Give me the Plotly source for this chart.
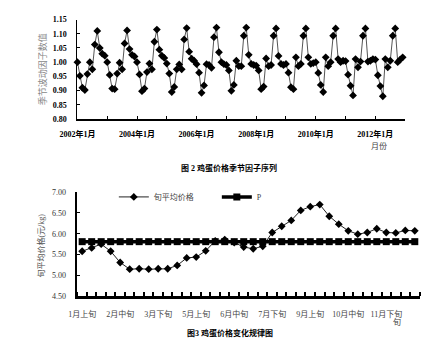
import plotly.graph_objects as go

W, H = 432, 350

# ---- Monthly seasonal factors of egg prices, 2002-2012 ----
years = list(range(2002, 2013))
sf_2002 = [1.000, 0.952, 0.910, 0.902, 0.958, 1.000, 0.975, 1.062, 1.110, 1.050, 1.030, 1.023]
sf_2003 = [1.000, 0.955, 0.907, 0.905, 0.960, 0.998, 0.975, 1.066, 1.112, 1.046, 1.026, 1.020]
sf_2004 = [1.000, 0.957, 0.898, 0.907, 0.965, 0.995, 0.975, 1.072, 1.115, 1.044, 1.023, 1.015]
sf_2005 = [0.995, 0.960, 0.895, 0.913, 0.975, 0.992, 0.975, 1.080, 1.120, 1.037, 1.012, 1.005]
sf_2006 = [0.993, 0.963, 0.892, 0.918, 0.993, 0.990, 0.980, 1.088, 1.122, 1.035, 1.000, 0.993]
sf_2007 = [0.990, 0.971, 0.899, 0.920, 1.005, 0.986, 0.986, 1.093, 1.122, 1.026, 0.994, 0.990]
sf_2008 = [0.988, 0.971, 0.905, 0.914, 1.013, 0.986, 0.990, 1.093, 1.119, 1.022, 0.994, 0.990]
sf_2009 = [0.994, 0.963, 0.912, 0.905, 1.017, 0.986, 0.994, 1.093, 1.119, 1.017, 0.994, 0.997]
sf_2010 = [1.000, 0.962, 0.920, 0.895, 1.017, 0.986, 1.000, 1.093, 1.119, 1.011, 1.000, 1.005]
sf_2011 = [1.004, 0.956, 0.917, 0.883, 1.011, 0.982, 1.002, 1.093, 1.119, 1.002, 1.005, 1.011]
sf_2012 = [1.009, 0.954, 0.916, 0.880, 1.011, 0.982, 1.005, 1.093, 1.119, 1.000, 1.009, 1.017]

seasonal = (sf_2002 + sf_2003 + sf_2004 + sf_2005 + sf_2006 + sf_2007 +
            sf_2008 + sf_2009 + sf_2010 + sf_2011 + sf_2012)
month_labels = [f"{y}年{m}月" for y in years for m in range(1, 13)]
sf_ticks = [0.80, 0.85, 0.90, 0.95, 1.00, 1.05, 1.10, 1.15]

# ---- Ten-day (旬) average egg prices over a year ----
dekads = [f"{m}月{p}旬" for m in range(1, 13) for p in ("上", "中", "下")]
dekad_price = [5.58, 5.66, 5.75, 5.58, 5.31, 5.15, 5.16, 5.15, 5.16, 5.16,
               5.24, 5.42, 5.44, 5.59, 5.83, 5.86, 5.79, 5.68, 5.64, 5.70,
               6.03, 6.18, 6.32, 6.56, 6.65, 6.70, 6.42, 6.23, 6.07, 5.99,
               6.03, 6.12, 6.03, 6.02, 6.08, 6.07]
p_level = [5.81] * len(dekads)
price_ticks = [4.50, 5.00, 5.50, 6.00, 6.50, 7.00]

SERIF = "Liberation Serif, Noto Sans CJK SC, serif"


def px_x(x):
    return x / W


def px_y(y):
    return 1 - y / H


fig = go.Figure()

fig.add_trace(go.Scatter(
    x=list(range(len(seasonal))), y=seasonal, mode="lines+markers",
    line=dict(color="#555555", width=1),
    marker=dict(symbol="diamond", size=6, color="black"),
    showlegend=False, cliponaxis=False, xaxis="x", yaxis="y",
))

fig.add_trace(go.Scatter(
    x=list(range(len(dekads))), y=dekad_price, mode="lines+markers",
    name="旬平均价格",
    line=dict(color="#222222", width=1),
    marker=dict(symbol="diamond", size=6, color="black"),
    cliponaxis=False, xaxis="x2", yaxis="y2",
))
fig.add_trace(go.Scatter(
    x=list(range(len(dekads))), y=p_level, mode="lines+markers",
    name="P",
    line=dict(color="black", width=3.5),
    marker=dict(symbol="square", size=7, color="black"),
    cliponaxis=False, xaxis="x2", yaxis="y2",
))

n = len(seasonal)
top_tickvals = list(range(0, n + 1, 12))
top_ticktext = [month_labels[i] if (i < n and i % 24 == 0) else "" for i in top_tickvals]

axis_common = dict(showgrid=False, zeroline=False, showline=True, linecolor="black",
                   tickcolor="black")

fig.update_layout(
    width=W, height=H, margin=dict(l=0, r=0, t=0, b=0),
    paper_bgcolor="white", plot_bgcolor="white",
    font=dict(family=SERIF, size=8, color="black"),
    xaxis=dict(**axis_common, domain=[px_x(62), px_x(404)], range=[0, n],
               anchor="y", linewidth=1.5, ticks="inside", ticklen=3,
               tickvals=top_tickvals, ticktext=top_ticktext,
               tickfont=dict(size=8, weight="bold"), ticklabelstandoff=7),
    yaxis=dict(**axis_common, domain=[px_y(118), px_y(16)], range=[0.80, 1.15],
               anchor="x", linewidth=1, ticks="inside", ticklen=3,
               tickvals=sf_ticks, tickformat=".2f",
               tickfont=dict(size=8, weight="bold"), ticklabelstandoff=8),
    xaxis2=dict(**axis_common, domain=[px_x(62), px_x(419)], range=[-0.5, len(dekads) - 0.5],
                anchor="y2", linewidth=3, ticks="",
                tickvals=list(range(0, len(dekads) - 3, 4)),
                ticktext=dekads[0:len(dekads) - 3:4],
                tickfont=dict(size=8, color="#444444"), ticklabelstandoff=8,
                minor=dict(ticks="inside", tick0=-0.5, dtick=1, ticklen=4,
                           tickwidth=1.5, tickcolor="black")),
    yaxis2=dict(**axis_common, domain=[px_y(300), px_y(193)], range=[4.5, 7.0],
                anchor="x2", linewidth=1.5, ticks="inside", ticklen=3,
                tickvals=price_ticks, tickformat=".2f",
                tickfont=dict(size=8, color="#333333"), ticklabelstandoff=8),
    legend=dict(orientation="h", x=px_x(100), y=px_y(198), xanchor="left", yanchor="middle",
                bgcolor="rgba(0,0,0,0)", font=dict(size=8, color="#444444"),
                entrywidth=58, entrywidthmode="pixels", itemwidth=30),
)

annotations = [
    dict(text="季节波动因子数值", x=px_x(25), y=px_y(67), textangle=-90,
         font=dict(size=9, color="#888888")),
    dict(text="月份", x=px_x(377), y=px_y(146), font=dict(size=8, color="#444444")),
    dict(text="<b>图 2 鸡蛋价格季节因子序列</b>", x=px_x(220), y=px_y(168),
         font=dict(size=8, color="black")),
    dict(text="旬平均价格(元/kg)", x=px_x(24), y=px_y(248), textangle=-90,
         font=dict(size=8, color="#555555")),
    dict(text="旬", x=px_x(395), y=px_y(326), font=dict(size=8, color="#444444")),
    dict(text="<b>图3 鸡蛋价格变化规律图</b>", x=px_x(221), y=px_y(338),
         font=dict(size=8, color="black")),
]
for a in annotations:
    fig.add_annotation(xref="paper", yref="paper", showarrow=False,
                       xanchor="center", yanchor="middle", **a)

fig.write_html("out.html")
